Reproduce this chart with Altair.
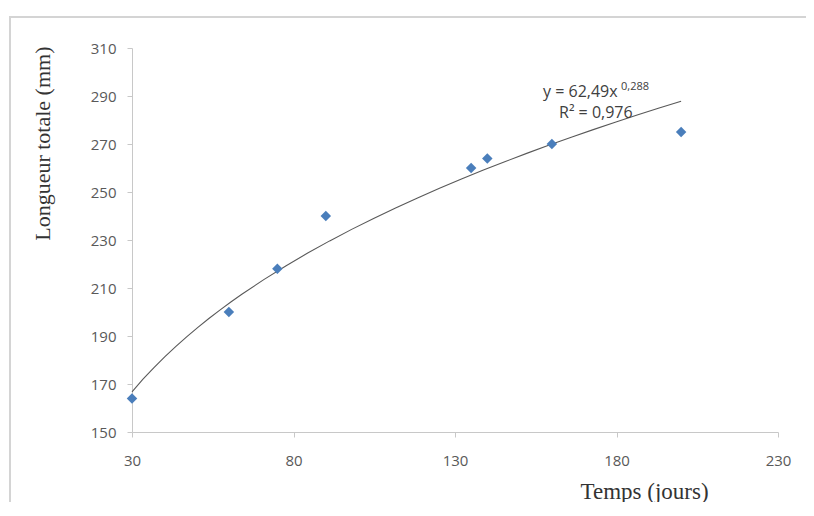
import altair as alt
import pandas as pd

# Data
temps = [30, 60, 75, 90, 135, 140, 160, 200]
longueur = [164, 200, 218, 240, 260, 264, 270, 275]

x_ticks = [30, 80, 130, 180, 230]
y_ticks = [150, 170, 190, 210, 230, 250, 270, 290, 310]

eq_main = ["y = 62,49x"]
eq_exp = ["0,288"]
eq_r2 = ["R² = 0,976"]

df = pd.DataFrame({"t": temps, "L": longueur})

axis_color = "#c8c8c8"
label_color = "#595959"

x_enc = alt.X(
    "t:Q",
    scale=alt.Scale(domain=[30, 230], nice=False, zero=False),
    axis=alt.Axis(
        values=x_ticks, grid=False, domainColor=axis_color, tickColor=axis_color,
        tickSize=5, labelPadding=16, labelFlush=False, labelFont="Open Sans", labelFontSize=15,
        labelColor=label_color, title="Temps (jours)", titleFont="Liberation Serif",
        titleFontSize=23, titleFontWeight=400, titleColor="#333333",
        titleAlign="left", titleX=448, titleY=66, titleBaseline="alphabetic",
    ),
)
y_enc = alt.Y(
    "L:Q",
    scale=alt.Scale(domain=[150, 310], nice=False, zero=False),
    axis=alt.Axis(
        values=y_ticks, grid=False, domainColor=axis_color, tickColor=axis_color,
        tickSize=5, labelPadding=11, labelFont="Open Sans", labelFontSize=15,
        labelColor=label_color, title="Longueur totale (mm)", titleFont="Liberation Serif",
        titleFontSize=22, titleFontWeight=400, titleColor="#333333",
        titleAngle=-90, titleAlign="right", titleBaseline="middle",
        titleX=-90, titleY=-2,
    ),
)

base = alt.Chart(df)

frame = alt.Chart(pd.DataFrame({"f": [0]})).mark_rect(
    fill="transparent", stroke="#d4d4d4", strokeWidth=2, clip=False
).encode(
    x=alt.value(-122), x2=alt.value(820), y=alt.value(-31), y2=alt.value(600)
)

trend = base.transform_regression(
    "t", "L", method="pow", extent=[30, 200]
).mark_line(color="#595959", strokeWidth=1.1).encode(x=x_enc, y=y_enc)

points = base.mark_point(
    shape="diamond", filled=True, color="#4a7ebb", size=110, opacity=1
).encode(x=x_enc, y=y_enc)

t1 = alt.Chart(pd.DataFrame({"s": eq_main})).mark_text(
    font="Open Sans", fontSize=16, color="#404040", align="left", baseline="alphabetic"
).encode(text="s:N", x=alt.value(411), y=alt.value(49))
t2 = alt.Chart(pd.DataFrame({"s": eq_exp})).mark_text(
    font="Open Sans", fontSize=11, color="#404040", align="left", baseline="alphabetic"
).encode(text="s:N", x=alt.value(489), y=alt.value(42))
t3 = alt.Chart(pd.DataFrame({"s": eq_r2})).mark_text(
    font="Open Sans", fontSize=16, color="#404040", align="left", baseline="alphabetic"
).encode(text="s:N", x=alt.value(427), y=alt.value(70))

chart = alt.layer(frame, trend, points, t1, t2, t3).properties(
    width=646, height=384,
    autosize=alt.AutoSizeParams(type="none"),
    padding={"left": 124, "top": 40, "right": 28, "bottom": 70},
    background="white",
).configure_view(stroke=None)

chart.save("out.html", embed_options={"renderer": "svg", "actions": False})
